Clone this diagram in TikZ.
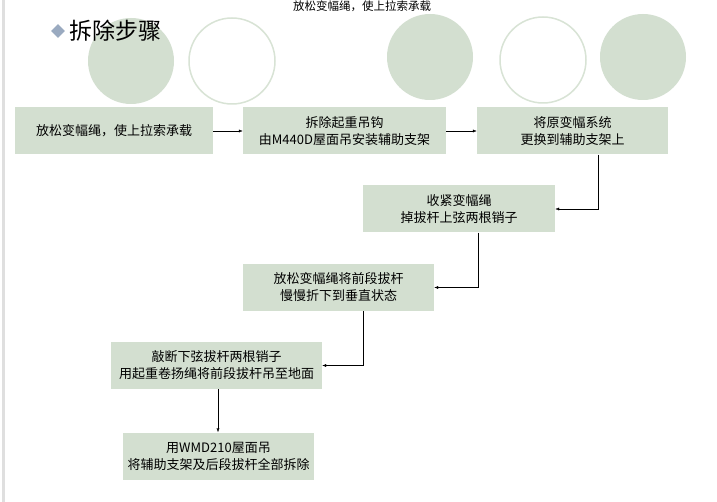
\documentclass[tikz,border=0pt]{standalone}
\usepackage{fontspec}
\setmainfont{Liberation Sans}
\newfontfamily\cjk{Noto Sans CJK SC}
\usetikzlibrary{arrows.meta,shapes.geometric}
\definecolor{boxgreen}{HTML}{D3DFD0}
\definecolor{ringgreen}{HTML}{D8E3D5}
\definecolor{bulletblue}{HTML}{9AAAC0}
\tikzset{stepbox/.style={fill=boxgreen,minimum height=47pt,align=center,inner sep=0pt,font=\cjk\fontsize{13}{17}\selectfont},
  flow/.style={-{Latex[length=4pt,width=3pt]},thin}}
\begin{document}
\begin{tikzpicture}[x=1pt,y=-1pt]
\useasboundingbox (0,0) rectangle (717,502);
\fill[white] (0,0) rectangle (717,502);
\fill[gray!25] (2,0) rectangle (5,502);
% decorative circles
\fill[boxgreen] (131,61) circle (43);
\draw[ringgreen,line width=1.5pt] (232,61) circle (43);
\fill[boxgreen] (430,57) circle (43);
\draw[ringgreen,line width=1.5pt] (543,60) circle (43);
\fill[boxgreen] (643,57) circle (43);
% heading
\node (top) at (362,6) {\cjk\fontsize{11.5}{12}\selectfont 放松变幅绳，使上拉索承载};
\node[diamond,fill=bulletblue,minimum size=14pt,inner sep=0pt] (bullet) at (58,31) {};
\node[anchor=west] (title) at (66,31) {\cjk\fontsize{23}{26}\selectfont 拆除步骤};
% steps
\node[stepbox,minimum width=198pt] (s1) at (114,131) {放松变幅绳，使上拉索承载};
\node[stepbox,minimum width=203pt] (s2) at (344.5,131) {拆除起重吊钩\\由M440D屋面吊安装辅助支架};
\node[stepbox,minimum width=191pt] (s3) at (572.5,131) {将原变幅系统\\更换到辅助支架上};
\node[stepbox,minimum width=192pt] (s4) at (459,209) {收紧变幅绳\\掉拔杆上弦两根销子};
\node[stepbox,minimum width=191pt] (s5) at (338.5,287.5) {放松变幅绳将前段拔杆\\慢慢折下到垂直状态};
\node[stepbox,minimum width=211pt] (s6) at (216.5,365.5) {敲断下弦拔杆两根销子\\用起重卷扬绳将前段拔杆吊至地面};
\node[stepbox,minimum width=191pt] (s7) at (218.5,456) {用WMD210屋面吊\\将辅助支架及后段拔杆全部拆除};
% connectors
\draw[flow] (s1) -- (s2);
\draw[flow] (s2) -- (s3);
\draw[flow] ([xshift=25.5pt]s3.south) |- (s4.east);
\draw[flow] ([xshift=19pt]s4.south) |- (s5.east);
\draw[flow] ([xshift=24.5pt]s5.south) |- (s6.east);
\draw[flow] ([xshift=1.5pt]s6.south) -- ([xshift=-0.5pt]s7.north);
\end{tikzpicture}
\end{document}
